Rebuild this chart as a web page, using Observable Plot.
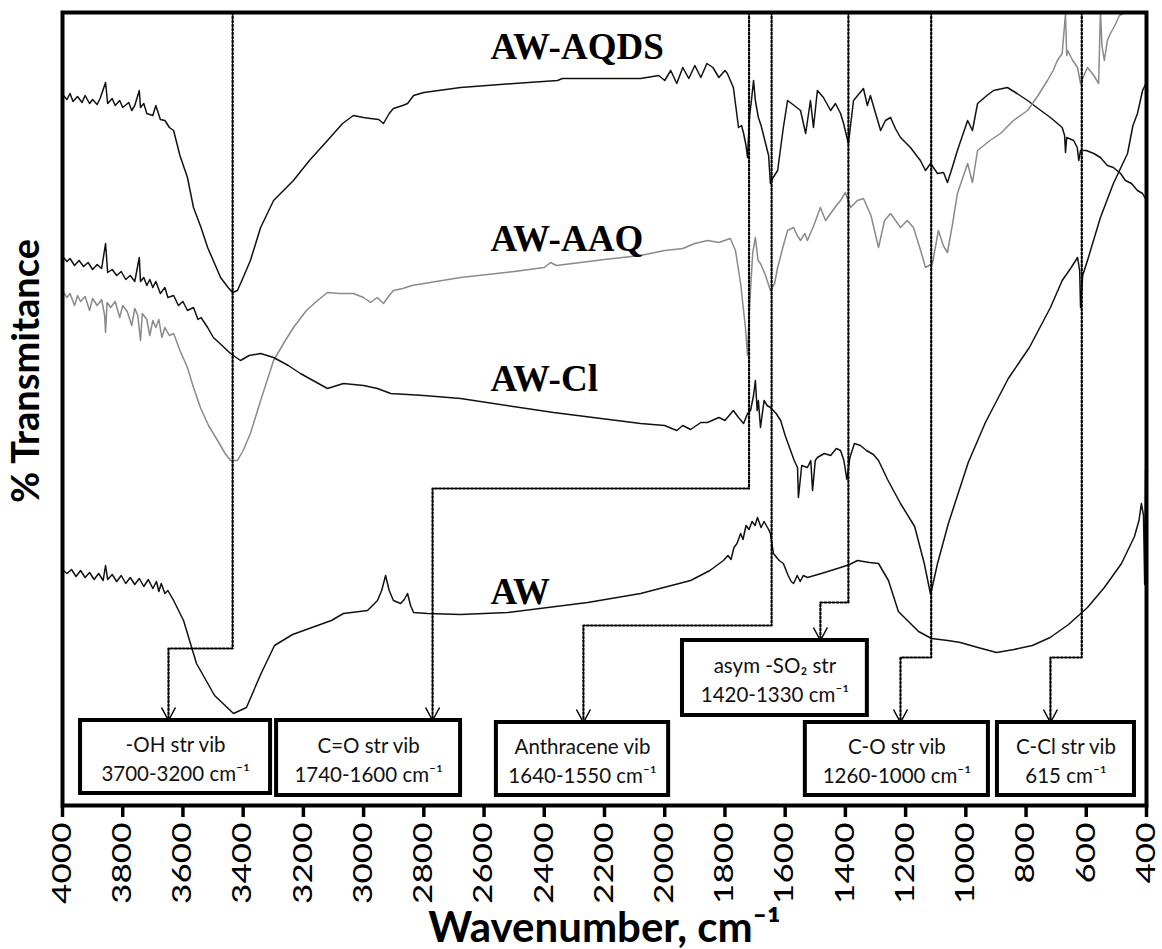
<!DOCTYPE html>
<html><head><meta charset="utf-8">
<script src="https://cdn.jsdelivr.net/npm/d3@7"></script>
<script src="https://cdn.jsdelivr.net/npm/@observablehq/plot@0.6"></script>
<style>body{margin:0;background:#fff}</style>
</head><body><div id="chart"></div>
<script>
// x-axis ticks (wavenumber, cm-1)
const xTicks = [4000,3800,3600,3400,3200,3000,2800,2600,2400,2200,2000,1800,1600,1400,1200,1000,800,600,400];

// Spectra: [wavenumber, transmittance (arbitrary units, offset stacked)]
const awAqds = [[3997,710],[3985,706],[3975,712],[3965,704],[3950,709],[3935,703],[3925,710],[3910,702],[3900,706],[3885,701],[3875,707],[3857,723],[3850,702],[3835,707],[3825,700],[3810,705],[3800,698],[3780,703],[3770,695],[3760,700],[3745,715],[3741,698],[3730,702],[3720,692],[3700,690],[3690,700],[3675,686],[3660,685],[3645,678],[3631,675],[3610,650],[3585,628],[3565,598],[3540,578],[3518,558],[3475,528],[3450,518],[3435,513],[3419,515],[3400,528],[3376,545],[3342,578],[3299,605],[3233,625],[3180,645],[3120,665],[3070,682],[3034,690],[3000,688],[2977,687],[2950,686],[2934,682],[2915,692],[2901,697],[2870,700],[2854,702],[2834,710],[2800,713],[2678,718],[2500,722],[2356,725],[2340,727],[2200,727],[2080,727],[2020,730],[2000,725],[1980,735],[1960,722],[1940,738],[1920,727],[1900,740],[1880,728],[1860,742],[1840,738],[1820,728],[1800,735],[1792,732],[1772,718],[1760,690],[1755,678],[1745,680],[1738,672],[1730,660],[1725,648],[1718,690],[1712,705],[1705,725],[1699,705],[1689,688],[1680,680],[1665,662],[1655,650],[1649,622],[1640,628],[1625,635],[1606,678],[1592,705],[1570,700],[1549,695],[1532,672],[1516,705],[1506,678],[1493,715],[1473,708],[1449,695],[1433,702],[1416,692],[1406,682],[1390,662],[1373,705],[1340,717],[1327,700],[1317,710],[1283,675],[1267,685],[1250,688],[1234,677],[1217,668],[1184,658],[1151,645],[1134,635],[1117,642],[1094,632],[1074,633],[1061,623],[1045,638],[1028,655],[994,685],[978,675],[961,702],[930,710],[908,715],[862,718],[830,712],[795,705],[760,697],[719,688],[680,678],[672,670],[669,653],[665,668],[642,665],[630,658],[625,645],[619,655],[600,655],[575,652],[553,648],[530,640],[510,638],[486,632],[470,625],[450,622],[430,615],[413,612],[402,606]];

const awAaq = [[3997,513],[3985,508],[3975,512],[3960,500],[3950,510],[3940,504],[3925,509],[3910,495],[3900,507],[3885,500],[3870,506],[3860,490],[3857,473],[3852,503],[3840,498],[3825,504],[3810,488],[3800,500],[3785,494],[3770,480],[3760,497],[3750,490],[3741,465],[3735,492],[3720,486],[3710,470],[3700,485],[3690,478],[3680,486],[3670,468],[3660,478],[3645,470],[3631,472],[3610,455],[3585,438],[3565,418],[3542,398],[3515,380],[3485,365],[3460,352],[3442,345],[3419,345],[3400,355],[3376,372],[3342,405],[3299,445],[3260,465],[3233,478],[3190,495],[3153,505],[3120,513],[3080,512],[3034,512],[3000,508],[2977,503],[2955,508],[2934,502],[2915,510],[2901,515],[2870,517],[2840,520],[2678,528],[2500,534],[2400,538],[2379,543],[2360,540],[2200,546],[2080,550],[2000,555],[1940,557],[1900,562],[1858,565],[1820,563],[1782,567],[1765,555],[1748,522],[1732,478],[1725,450],[1718,500],[1708,552],[1699,568],[1690,545],[1682,542],[1665,530],[1649,515],[1635,522],[1625,538],[1606,560],[1592,575],[1572,578],[1560,570],[1549,565],[1535,572],[1526,565],[1505,580],[1483,598],[1466,585],[1449,592],[1430,600],[1416,605],[1400,613],[1383,598],[1360,605],[1340,607],[1315,590],[1290,558],[1270,585],[1250,592],[1217,578],[1195,585],[1174,578],[1150,555],[1134,538],[1111,542],[1091,575],[1075,560],[1061,553],[1045,580],[1028,612],[994,642],[978,623],[961,655],[920,665],[885,672],[842,685],[795,695],[760,710],[729,725],[710,735],[696,745],[680,752],[669,792],[665,750],[662,755],[645,745],[629,738],[619,722],[605,732],[596,738],[575,730],[559,722],[553,795],[548,760],[540,745],[530,765],[520,772],[505,780],[490,790],[476,792],[465,800],[455,810]];

const awCl = [[3997,548],[3985,544],[3975,547],[3960,540],[3945,545],[3930,539],[3915,543],[3900,536],[3885,541],[3870,537],[3857,562],[3850,533],[3835,536],[3820,530],[3805,534],[3790,526],[3775,530],[3760,524],[3745,548],[3741,524],[3730,528],[3720,520],[3710,526],[3700,518],[3690,524],[3675,512],[3660,518],[3650,508],[3631,510],[3615,500],[3600,504],[3585,495],[3565,498],[3550,486],[3540,488],[3518,478],[3499,468],[3470,460],[3442,452],[3409,445],[3380,450],[3342,452],[3299,448],[3250,440],[3210,432],[3120,417],[3067,422],[3000,420],[2954,417],[2910,412],[2800,410],[2678,407],[2369,393],[2080,382],[2000,380],[1960,375],[1940,380],[1914,376],[1880,383],[1858,383],[1820,388],[1800,385],[1772,395],[1755,388],[1738,382],[1725,392],[1715,395],[1705,410],[1699,425],[1693,395],[1689,405],[1682,378],[1670,405],[1660,400],[1649,398],[1630,392],[1615,385],[1600,370],[1582,355],[1570,345],[1559,338],[1556,308],[1545,340],[1526,338],[1515,345],[1509,315],[1500,345],[1493,348],[1470,352],[1449,350],[1430,357],[1416,355],[1405,345],[1395,326],[1385,348],[1370,362],[1350,360],[1330,355],[1307,351],[1290,345],[1260,326],[1217,302],[1170,279],[1138,242],[1117,211],[1094,242],[1058,282],[992,343],[935,383],[859,427],[789,458],[719,498],[680,525],[650,538],[629,548],[622,535],[619,498],[612,530],[596,545],[553,588],[510,622],[463,652],[445,680],[430,692],[413,715],[402,722]];

const aw = [[3997,235],[3985,232],[3970,236],[3955,229],[3940,235],[3925,228],[3910,233],[3895,226],[3880,232],[3865,225],[3857,240],[3850,226],[3835,231],[3820,224],[3805,230],[3790,222],[3775,228],[3760,221],[3745,227],[3730,219],[3715,226],[3700,217],[3688,224],[3680,214],[3672,222],[3660,212],[3650,215],[3631,205],[3598,185],[3555,142],[3495,110],[3432,92],[3389,98],[3342,131],[3296,160],[3236,171],[3107,185],[3067,192],[2987,195],[2954,205],[2940,215],[2927,230],[2915,215],[2901,205],[2877,202],[2865,206],[2854,212],[2844,200],[2834,193],[2788,192],[2678,191],[2522,193],[2256,203],[2080,212],[1914,225],[1850,235],[1805,245],[1790,250],[1780,246],[1770,258],[1760,262],[1748,272],[1740,266],[1730,280],[1720,276],[1710,284],[1700,280],[1692,288],[1680,278],[1670,284],[1655,276],[1649,272],[1639,252],[1620,245],[1606,242],[1590,230],[1580,224],[1572,222],[1560,230],[1550,224],[1540,230],[1526,228],[1480,232],[1416,238],[1386,241],[1360,245],[1320,243],[1290,242],[1257,225],[1224,194],[1157,174],[1114,167],[1060,165],[1018,163],[960,158],[898,153],[840,156],[779,160],[720,168],[659,181],[596,198],[540,218],[483,242],[440,269],[425,285],[417,302],[410,290],[406,221],[403,336],[400,320]];

// Series labels
const seriesNames = ["AW-AQDS","AW-AAQ","AW-Cl","AW"];
const seriesColors = ["#111","#8a8a8a","#111","#111"];
const labelWn = [2579,2579,2579,2579];
const labelT = [747,555,415,202];

// Band annotations
const bandNames = ["-OH str vib","C=O str vib","Anthracene vib","asym -SO\u2082 str","C-O str vib","C-Cl str vib"];
const bandRanges = ["3700-3200 cm\u207B\u00B9","1740-1600 cm\u207B\u00B9","1640-1550 cm\u207B\u00B9","1420-1330 cm\u207B\u00B9","1260-1000 cm\u207B\u00B9","615 cm\u207B\u00B9"];
const bandPeak = [3435,1720,1645,1390,1115,615];
const bendT = [157,317,180,203,148,148];
const arrowWn = [3648,2771,2270,1483,1217,719];
const boxLeft = [3940,3289,2559,1941,1533,895];
const boxRight = [3309,2678,1987,1327,925,440];
const boxTop = [85,85,83,165,83,83];
const boxBottom = [12,10,10,90,10,10];
const frameTopT = 793;

const spectra = [awAqds, awAaq, awCl, aw].map((pts, i) =>
  pts.map(([wn, t]) => ({wn, t, name: seriesNames[i]})));

const connectors = bandPeak.flatMap((p, i) => [
  {i, wn: p, t: frameTopT},
  {i, wn: p, t: bendT[i]},
  {i, wn: arrowWn[i], t: bendT[i]},
  {i, wn: arrowWn[i], t: boxTop[i]}
]);
const bands = bandNames.map((n, i) => ({
  name: n, range: bandRanges[i],
  x1: boxLeft[i], x2: boxRight[i], y1: boxBottom[i], y2: boxTop[i],
  ax: arrowWn[i], ay: boxTop[i]
}));
const labels = seriesNames.map((n, i) => ({name: n, wn: labelWn[i], t: labelT[i]}));

const vHead = {draw(ctx) { ctx.moveTo(-7, -13); ctx.lineTo(0, 0); ctx.lineTo(7, -13); }};

const chart = Plot.plot({
  width: 1162, height: 949,
  marginLeft: 62, marginRight: 16, marginTop: 12, marginBottom: 144,
  x: {domain: [4000, 400]},
  y: {domain: [0, 793], axis: null},
  style: {background: "white", fontFamily: "Lato, 'Open Sans', sans-serif"},
  marks: [
    ...spectra.map((s, i) => Plot.line(s, {x: "wn", y: "t", stroke: seriesColors[i], strokeWidth: 1.5, clip: true})),
    Plot.line(connectors, {x: "wn", y: "t", z: "i", stroke: "#000", strokeWidth: 2.2, strokeDasharray: "2,2"}),
    Plot.rect(bands, {x1: "x1", x2: "x2", y1: "y1", y2: "y2", fill: "white", stroke: "#000", strokeWidth: 4}),
    Plot.text(bands, {x: d => (d.x1 + d.x2) / 2, y: d => (d.y1 + d.y2) / 2, text: d => d.name + "\n" + d.range, lineHeight: 1.45, fontSize: 20.5, fill: "#111"}),
    Plot.dot(bands, {x: "ax", y: "ay", symbol: vHead, r: 5, fill: "none", stroke: "#000", strokeWidth: 1.5}),
    Plot.text(labels, {x: "wn", y: "t", text: "name", textAnchor: "start", lineAnchor: "bottom", fontFamily: "'Liberation Serif', 'Times New Roman', serif", fontWeight: "bold", fontSize: 37, fill: "#000"}),
    Plot.frame({stroke: "#000", strokeWidth: 4}),
    Plot.axisX(xTicks, {tickSize: 12, tickPadding: 5, tickRotate: -90, tickFormat: d => String(d), fontSize: 26, strokeWidth: 3.5, label: null, fill: "#000"}),
    Plot.text(["% Transmitance"], {text: d => d, frameAnchor: "left", textAnchor: "middle", rotate: -90, dx: -36, dy: -38, fontSize: 38, fontWeight: "bold", fill: "#000"}),
    Plot.text(["Wavenumber, cm\u207B\u00B9"], {text: d => d, frameAnchor: "bottom", lineAnchor: "bottom", dy: 136, fontSize: 42, fontWeight: "bold", fill: "#000"})
  ]
});
document.getElementById("chart").appendChild(chart);

// stretch rotated tick labels along their length to match the reference lettering
d3.select(chart).selectAll('g[aria-label="x-axis tick label"] text').each(function() {
  const t = this.getAttribute("transform");
  if (t) this.setAttribute("transform", t + " scale(1.35,1)");
});
</script>
</body></html>
